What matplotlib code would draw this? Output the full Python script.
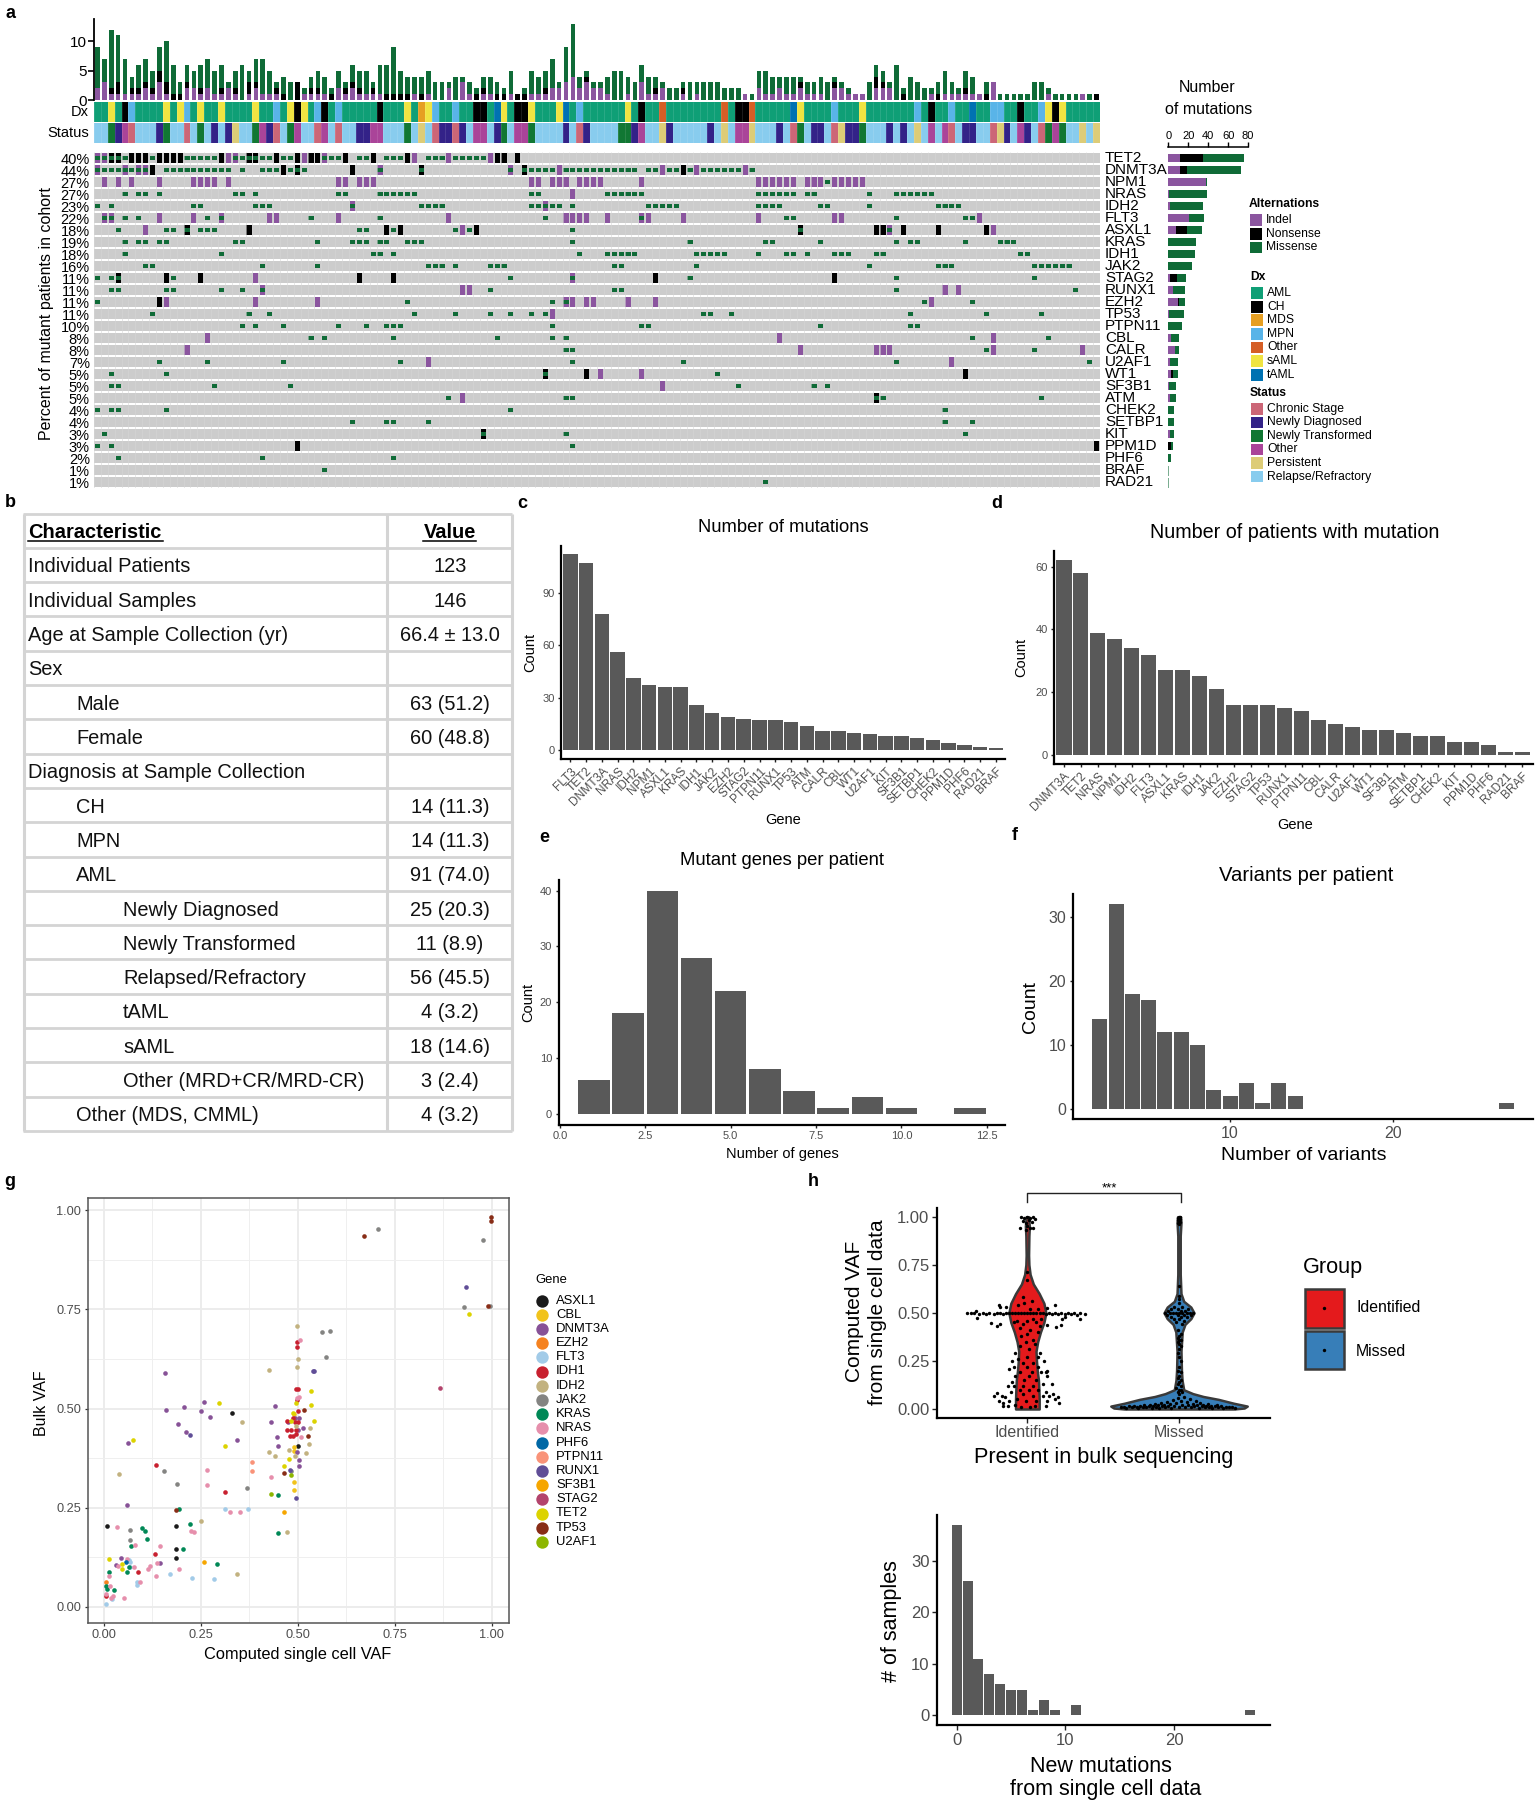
import matplotlib
matplotlib.use('Agg')
import matplotlib.pyplot as plt
from matplotlib.patches import Rectangle
import numpy as np

plt.rcParams['font.family'] = ['Liberation Sans', 'DejaVu Sans']
W, H = 1538, 1800
fig = plt.figure(figsize=(W/100, H/100), dpi=100, facecolor='white')

def axpx(x0, y0, x1, y1, **kw):
    return fig.add_axes([x0/W, 1-y1/H, (x1-x0)/W, (y1-y0)/H], **kw)

def T(x, y, s, **kw):
    kw.setdefault('va', 'center')
    kw.setdefault('ha', 'left')
    return fig.text(x/W, 1-y/H, s, **kw)

GRAYTXT = '#4D4D4D'
BARG = '#595959'
C_I, C_N, C_M = '#8B559F', '#000000', '#0F6B37'
DX_COL = {'AML': '#0F9F76', 'CH': '#000000', 'MDS': '#E69F22', 'MPN': '#59B4E8',
          'Other': '#D55E26', 'sAML': '#F0E442', 'tAML': '#0072B2'}
ST_COL = {'Chronic Stage': '#CC6677', 'Newly Diagnosed': '#332288', 'Newly Transformed': '#117733',
          'Other': '#AA4499', 'Persistent': '#DDCC77', 'Relapse/Refractory': '#88CCEE'}

# ---------- panel a data ----------
BAR_I = [2,3,1,1,1,1,1,2,1,3, 1,0,0,2,2,1,2,1,1,2, 1,0,1,2,1,1,1,0,0,0, 1,1,1,1,0,2,1,2,1,1,
         1,1,0,0,0,0,1,0,1,0, 0,2,0,3,1,0,1,1,0,0, 1,0,0,1,1,1,2,2,3,4, 2,3,2,2,1,0,0,1,0,3,
         1,1,2,0,0,1,0,1,0,0, 0,0,0,0,1,0,2,1,1,2, 1,1,2,1,1,1,0,2,2,1, 1,1,0,2,2,2,0,0,0,0,
         0,1,0,1,1,1,1,1,1,0, 3,0,0,0,0,0,0,0,1,0, 0,0,0,1,0,0]
BAR_N = [0,0,1,2,0,1,1,1,1,2, 2,1,1,1,0,1,0,0,1,0, 1,0,2,1,0,0,1,1,0,3, 0,1,1,0,1,0,1,1,1,0,
         1,0,1,1,1,1,0,1,0,0, 0,0,0,0,0,1,1,0,1,1, 0,1,1,0,0,1,0,0,0,0, 0,1,0,0,0,0,0,0,0,0,
         0,1,0,0,0,1,0,0,0,0, 0,0,0,0,0,0,0,0,0,0, 0,0,1,0,0,0,0,1,0,0, 0,0,0,2,1,0,0,1,0,0,
         0,0,1,0,0,0,1,0,0,1, 0,0,0,0,0,0,0,0,0,0, 0,0,0,0,0,1]
BAR_M = [7,4,10,8,6,2,4,4,3,4, 7,5,2,3,3,4,5,4,4,1, 3,6,2,4,6,4,1,3,3,0, 1,2,3,3,1,3,1,3,3,4,
         1,5,5,8,4,3,3,3,4,3, 3,1,4,1,2,1,2,3,2,1, 4,0,1,4,3,3,5,1,6,9, 2,1,1,1,3,5,5,3,3,3,
         3,2,1,2,2,1,3,2,3,3, 3,2,2,2,0,1,3,4,3,2, 3,3,1,2,2,3,3,1,1,1, 0,0,3,2,2,1,6,1,4,3,
         2,1,2,4,2,1,3,3,0,2, 0,1,1,1,1,1,3,3,1,1, 1,1,1,0,1,0]
DX_RUNS = [('AML',2),('sAML',1),('AML',1),('CH',1),('MPN',1),('AML',4),('sAML',1),('AML',1),('sAML',1),('MPN',1),
 ('AML',1),('sAML',1),('AML',2),('sAML',1),('AML',4),('sAML',1),('AML',2),('MPN',1),('AML',1),('sAML',1),('CH',1),
 ('sAML',1),('AML',1),('MPN',1),('CH',1),('AML',1),('MPN',1),('AML',5),('CH',1),('AML',3),('sAML',1),('AML',1),
 ('MDS',1),('sAML',1),('MPN',1),('AML',2),('MPN',1),('AML',2),('CH',2),('AML',1),('tAML',1),('sAML',1),('AML',1),
 ('CH',2),('sAML',1),('AML',3),('sAML',1),('tAML',1),('AML',1),('MPN',1),('AML',6),('sAML',1),('AML',1),('CH',1),
 ('AML',2),('Other',1),('AML',8),('Other',1),('AML',1),('CH',2),('Other',1),('AML',5),('tAML',1),('sAML',1),('AML',4),
 ('MPN',1),('AML',3),('sAML',1),('AML',7),('MPN',1),('AML',1),('CH',1),('AML',2),('MPN',1),('AML',2),('tAML',1),
 ('AML',2),('MPN',2),('AML',2),('CH',1),('AML',2),('MPN',1),('sAML',1),('CH',1),('sAML',1),('AML',5)]
R, NT, ND, O, CS, P = 'Relapse/Refractory','Newly Transformed','Newly Diagnosed','Other','Chronic Stage','Persistent'
ST_RUNS = [(R,2),(NT,1),(ND,1),(O,1),(CS,1),(R,3),(ND,1),(NT,1),(R,2),(CS,1),(R,1),(NT,1),(R,1),(ND,1),(R,1),(ND,1),(P,1),
 (R,2),(NT,1),(O,1),(ND,1),(CS,1),(R,1),(NT,1),(O,1),(R,2),(CS,1),(O,1),(R,1),(CS,1),(R,2),(ND,2),(O,2),(R,3),(NT,1),(R,1),
 (P,1),(R,1),(CS,1),(ND,2),(CS,1),(ND,1),(R,1),(O,2),(R,1),(ND,1),(NT,1),(R,1),(O,2),(NT,1),(R,4),(ND,1),(R,1),(CS,1),(ND,1),
 (R,4),(NT,2),(ND,1),(O,1),(R,2),(P,1),(ND,1),(R,5),(ND,1),(R,1),(P,1),(R,1),(O,2),(P,1),(R,3),(ND,1),(R,1),(CS,1),(NT,1),
 (R,1),(ND,2),(R,1),(CS,1),(P,1),(ND,2),(NT,1),(R,3),(ND,1),(R,1),(ND,1),(R,1),(P,1),(R,1),(O,1),(R,1),(O,1),(CS,1),(R,1),
 (ND,2),(R,2),(CS,1),(P,1),(ND,1),(R,1),(O,1),(ND,1),(R,1),(CS,1),(NT,1),(O,1),(NT,1),(R,2),(P,1),(R,1),(P,1)]
GENES_A = ['TET2','DNMT3A','NPM1','NRAS','IDH2','FLT3','ASXL1','KRAS','IDH1','JAK2','STAG2','RUNX1','EZH2','TP53','PTPN11',
           'CBL','CALR','U2AF1','WT1','SF3B1','ATM','CHEK2','SETBP1','KIT','PPM1D','PHF6','BRAF','RAD21']
PCT_A = ['40%','44%','27%','27%','23%','22%','18%','19%','18%','16%','11%','11%','11%','11%','10%','8%','8%','7%','5%','5%',
         '5%','4%','4%','3%','3%','2%','1%','1%']
INDEL = {'TET2':[0,1,19,20,30,33,46,51,57],'DNMT3A':[0,4,6,7,41,60,67,82,87,94],
 'NPM1':[1,3,5,9,14,15,16,17,19,35,36,38,39,40,63,64,66,67,68,70,71,72,73,79,96,97,98,99,100,101,103,104,105,107,108,109,110,111],
 'NRAS':[69],'IDH2':[37,65],'FLT3':[1,2,9,14,18,25,26,35,51,68,69,70,71,74,79,80,85,96,107,108,128],'ASXL1':[7,53,115,130],
 'STAG2':[23,69],'RUNX1':[24,53,54,123,125],'EZH2':[10,23,32,68,69,71,72,77,81,121],'TP53':[66],'CBL':[16,99,130],
 'CALR':[13,102,113,114,115,130,143],'U2AF1':[48,124],'WT1':[73,79],'SF3B1':[82],'ATM':[53]}
NONSENSE = {'TET2':[2,3,5,6,7,9,10,11,12,18,22,23,26,29,31,32,36,40,45,58,59,61],'DNMT3A':[8,27,29,37,47,62,85],
 'ASXL1':[13,22,42,44,55,102,113,114,117,122,129],'STAG2':[3,10,15,38,43,81,107],'EZH2':[9],'WT1':[65,71,126],'ATM':[113],
 'KIT':[56],'PPM1D':[29,145]}
MISSENSE = {'TET2':[0,1,2,3,4,8,13,14,15,16,17,20,21,22,23,24,25,27,28,33,34,35,38,39,42,43,44,48,49,50,52,53,54,55,56],
 'DNMT3A':[0,1,2,3,4,5,6,7,10,11,12,13,14,15,16,17,18,19,21,24,25,26,28,29,30,41,47,60,62,63,64,65,66,68,69,70,71,72,73,74,75,76,77,78,80,81,83,84,86,88,89,90,91,92,93,95],
 'NPM1':[106],'NRAS':[4,6,7,9,20,21,23,35,36,41,42,43,44,45,46,63,64,74,75,76,77,78,79,96,97,98,99,100,101,103,104,112,116,117,118,119,120,121],
 'IDH2':[0,2,14,15,23,24,25,37,47,48,49,50,63,64,65,66,67,69,80,81,82,83,84,96,97,98,99,105,106,112,122,123,124,125],
 'FLT3':[1,2,4,6,16,18,31,41,65,79,100,101,116,126,127],'ASXL1':[3,10,11,13,15,16,17,38,39,43,52,54,69,102,115],
 'KRAS':[4,6,7,9,10,20,21,32,37,38,39,41,42,45,46,47,69,86,97,98,105,116,118,119,126,131,132,133],
 'IDH1':[4,18,40,41,43,70,74,75,76,77,78,87,88,89,90,91,96,100,101,103,107,108,109,113,114,134,135],
 'JAK2':[7,8,24,32,48,49,50,52,57,58,59,75,76,87,112,122,123,124,136,137,138,139,140,141],
 'STAG2':[0,2,3,11,60,69,86,116,136],'RUNX1':[2,3,10,11,18,21,24,57,75,76,116,142],'EZH2':[0,45,66,68,120,127],
 'TP53':[8,22,25,46,52,57,60,63,65,88,89,92,118,129,137],'PTPN11':[21,23,27,35,39,42,43,44,66,79,80,105,118,119],
 'CBL':[31,33,43,58,66,68,127,138],'CALR':[68,69,129,136],'U2AF1':[9,16,27,44,69,85,116,144],'WT1':[2,10,65,90],
 'SF3B1':[2,3,17,28,93,104,106],'ATM':[51,68,69,113,114,137],'CHEK2':[0,2,3,10,60,123],'SETBP1':[37,42,43,48,123,127],
 'KIT':[1,56,68,126],'PPM1D':[0,2,69],'PHF6':[3,24,43],'BRAF':[33],'RAD21':[97]}
SIDE_I = [12,12,38,1,2,21,8,0,0,0,2,5,10,1,0,3,7,2,3,1,2,0,0,2,0,0,0,0]
SIDE_N = [23,7,0,0,0,0,11,0,0,0,7,0,1,0,0,0,0,0,2,0,0,0,0,0,3,0,0,0]
SIDE_M = [41,54,1,38,33,15,15,28,27,24,9,12,6,15,14,8,4,8,5,7,6,6,6,4,2,3,1,1]

# ---------- panel a drawing ----------
n = len(BAR_I)
cols = np.arange(n)
ax = axpx(94, 19, 1100, 100)
ax.bar(cols, BAR_I, width=.68, color=C_I, linewidth=0)
ax.bar(cols, BAR_N, width=.68, bottom=BAR_I, color=C_N, linewidth=0)
ax.bar(cols, BAR_M, width=.68, bottom=np.add(BAR_I, BAR_N), color=C_M, linewidth=0)
ax.set_xlim(-.5, n-.5); ax.set_ylim(0, 81/5.87)
ax.set_yticks([0, 5, 10]); ax.set_xticks([])
for s in ['top', 'right', 'bottom']:
    ax.spines[s].set_visible(False)
ax.spines['left'].set_linewidth(1.3)
ax.tick_params(axis='y', labelsize=11, length=4, width=1.2, pad=1)

def runs_bar(y0, y1, runs, cmap):
    a = axpx(94, y0, 1100, y1)
    pos = 0
    for name, k in runs:
        a.bar(np.arange(pos, pos+k), 1, width=1, color=cmap[name], linewidth=0)
        pos += k
    a.vlines(np.arange(n+1)-.5, 0, 1, color='white', lw=.4, alpha=.2)
    a.set_xlim(-.5, n-.5); a.set_ylim(0, 1); a.axis('off')

runs_bar(101.7, 122, DX_RUNS, DX_COL)
runs_bar(123, 143, ST_RUNS, ST_COL)
T(89, 112, 'Dx', ha='right', fontsize=10.5)
T(89, 133, 'Status', ha='right', fontsize=10.5)

ax = axpx(94, 152, 1100, 488)
rows = np.arange(len(GENES_A))
ax.barh(rows, n, left=-.5, height=.9, color='#CCCCCC', linewidth=0)
ax.vlines(np.arange(n+1)-.5, -.5, 27.5, color='#D6D6D6', lw=.4)
for r, g in enumerate(GENES_A):
    if g in INDEL:
        ax.bar(INDEL[g], .85, width=.74, bottom=r-.425, color=C_I, linewidth=0)
    if g in NONSENSE:
        ax.bar(NONSENSE[g], .85, width=.74, bottom=r-.425, color=C_N, linewidth=0)
    if g in MISSENSE:
        ax.bar(MISSENSE[g], .34, width=.74, bottom=r-.17, color=C_M, linewidth=0)
    T(1105, 152+12*(r+.5), g, fontsize=11)
ax.set_xlim(-.5, n-.5); ax.set_ylim(27.5, -.5)
ax.set_xticks([]); ax.set_yticks(rows); ax.set_yticklabels(PCT_A, fontsize=10.5)
ax.tick_params(axis='y', length=0, pad=3)
for s in ax.spines.values():
    s.set_visible(False)
T(47, 314, 'Percent of mutant patients in cohort', rotation=90, ha='center', fontsize=11.5)

ax = axpx(1168.3, 152, 1248, 488)
ax.barh(rows, SIDE_I, height=.62, color=C_I, linewidth=0)
ax.barh(rows, SIDE_N, left=SIDE_I, height=.62, color=C_N, linewidth=0)
bars = ax.barh(rows, SIDE_M, left=np.add(SIDE_I, SIDE_N), height=.62, color=C_M, linewidth=0)
for b in bars[-2:]:
    b.set_alpha(.55); b.set_height(.8)
ax.set_xlim(0, 80); ax.set_ylim(27.5, -.5)
ax.set_yticks([])
ax.xaxis.tick_top(); ax.set_xticks([0, 20, 40, 60, 80])
ax.tick_params(axis='x', labelsize=8, length=3.5, width=1, pad=1)
for s in ['left', 'right', 'bottom']:
    ax.spines[s].set_visible(False)
ax.spines['top'].set_position(('outward', 3.6)); ax.spines['top'].set_linewidth(1.1)
T(1207, 88, 'Number', ha='center', fontsize=11.5)
T(1209, 110, 'of mutations', ha='center', fontsize=11.5)

leg = fig.add_axes([0, 0, 1, 1]); leg.set_xlim(0, W); leg.set_ylim(H, 0); leg.axis('off'); leg.patch.set_alpha(0)
def legend_block(title, ytitle, names, ys, colors, x0):
    T(x0-1, ytitle, title, fontsize=8.7, fontweight='bold')
    for nm, y, c in zip(names, ys, colors):
        leg.add_patch(Rectangle((x0, y-5.8), 11.5, 11.6, color=c, linewidth=0))
        T(x0+16, y, nm, fontsize=8.7)
legend_block('Alternations', 204, ['Indel', 'Nonsense', 'Missense'], [220, 234, 247.5], [C_I, C_N, C_M], 1250)
legend_block('Dx', 277, list(DX_COL), [293, 307, 320, 334, 347.5, 361, 375], list(DX_COL.values()), 1251)
legend_block('Status', 392.5, list(ST_COL), [409, 422.5, 436, 449.5, 463, 476.5], list(ST_COL.values()), 1251)

# ---------- panel b ----------
TABLE_ROWS = [('Characteristic', 'Value', 0), ('Individual Patients', '123', 0), ('Individual Samples', '146', 0),
 ('Age at Sample Collection (yr)', '66.4 ± 13.0', 0), ('Sex', '', 0), ('Male', '63 (51.2)', 1), ('Female', '60 (48.8)', 1),
 ('Diagnosis at Sample Collection', '', 0), ('CH', '14 (11.3)', 1), ('MPN', '14 (11.3)', 1), ('AML', '91 (74.0)', 1),
 ('Newly Diagnosed', '25 (20.3)', 2), ('Newly Transformed', '11 (8.9)', 2), ('Relapsed/Refractory', '56 (45.5)', 2),
 ('tAML', '4 (3.2)', 2), ('sAML', '18 (14.6)', 2), ('Other (MRD+CR/MRD-CR)', '3 (2.4)', 2), ('Other (MDS, CMML)', '4 (3.2)', 1)]
INDENT_PX = [28, 76, 123]
top, bot = 513.5, 1131
pitch = (bot-top)/len(TABLE_ROWS)
tb = '#D4D4D4'
for i in range(len(TABLE_ROWS)+1):
    leg.plot([23, 512], [top+i*pitch]*2, color=tb, lw=2, solid_capstyle='butt')
for xv in [23.5, 387, 511.5]:
    leg.plot([xv, xv], [top, bot], color=tb, lw=2.2, solid_capstyle='butt')
for i, (lab, val, lev) in enumerate(TABLE_ROWS):
    y = top + (i+.5)*pitch + 2
    if i == 0:
        T(28, y, lab, fontsize=14.4, fontweight='bold')
        T(450, y, val, fontsize=14.4, fontweight='bold', ha='center')
        leg.plot([28, 163], [y+8.5]*2, color='k', lw=1.1)
        leg.plot([423, 476], [y+8.5]*2, color='k', lw=1.1)
    else:
        T(INDENT_PX[lev], y, lab, fontsize=14.4, color='#111111')
        T(450, y, val, fontsize=14.4, ha='center', color='#111111')

# ---------- panels c, d, e, f, h hist ----------
GENES_C = ['FLT3','TET2','DNMT3A','NRAS','IDH2','NPM1','ASXL1','KRAS','IDH1','JAK2','EZH2','STAG2','PTPN11','RUNX1','TP53',
           'ATM','CALR','CBL','WT1','U2AF1','KIT','SF3B1','SETBP1','CHEK2','PPM1D','PHF6','RAD21','BRAF']
COUNT_C = [112,107,78,56,41,37,36,36,26,21,19,18,17,17,16,14,11,11,10,9,8,8,7,6,4,3,2,1]
GENES_D = ['DNMT3A','TET2','NRAS','NPM1','IDH2','FLT3','ASXL1','KRAS','IDH1','JAK2','EZH2','STAG2','TP53','RUNX1','PTPN11',
           'CBL','CALR','U2AF1','WT1','SF3B1','ATM','SETBP1','CHEK2','KIT','PPM1D','PHF6','RAD21','BRAF']
COUNT_D = [62,58,39,37,34,32,27,27,25,21,16,16,16,15,14,11,10,9,8,8,7,6,6,4,4,3,1,1]
BINS_E = [1,2,3,4,5,6,7,8,9,10,12]
COUNT_E = [6,18,40,28,22,8,4,1,3,1,1]
BINS_F = [2,3,4,5,6,7,8,9,10,11,12,13,14,27]
COUNT_F = [14,32,18,17,12,12,10,3,2,4,1,4,2,1]
BINS_H = [0,1,2,3,4,5,6,7,8,9,11,27]
COUNT_H = [37,26,11,8,6,5,5,1,3,1,2,1]

def classic(a, lw=1.6, ls=8, tl=2.5):
    a.spines['top'].set_visible(False); a.spines['right'].set_visible(False)
    a.spines['left'].set_linewidth(lw); a.spines['bottom'].set_linewidth(lw)
    a.tick_params(labelsize=ls, labelcolor=GRAYTXT, length=tl, width=1, color='#222222', pad=2)

def gene_panel(box, genes, vals, xlim, ylim, yticks):
    a = axpx(*box)
    a.bar(np.arange(1, len(vals)+1), vals, width=.92, color=BARG, linewidth=0)
    a.set_xlim(*xlim); a.set_ylim(*ylim); a.set_yticks(yticks)
    a.set_xticks(np.arange(1, len(vals)+1))
    a.set_xticklabels(genes, rotation=45, ha='right', rotation_mode='anchor')
    classic(a)
    a.tick_params(axis='x', labelsize=8.6)
    return a

gene_panel((561, 546, 1005, 759), GENES_C, COUNT_C, (.41, 28.57), (-5.15, 116.7), [0, 30, 60, 90])
T(783, 527, 'Number of mutations', ha='center', fontsize=13.2)
T(783, 820, 'Gene', ha='center', fontsize=10.5)
T(530, 652, 'Count', ha='center', rotation=90, fontsize=10.5)
gene_panel((1054, 551, 1533, 764), GENES_D, COUNT_D, (.43, 28.62), (-2.9, 65), [0, 20, 40, 60])
T(1295, 532, 'Number of patients with mutation', ha='center', fontsize=14.2)
T(1295, 825, 'Gene', ha='center', fontsize=10.5)
T(1021, 657, 'Count', ha='center', rotation=90, fontsize=10.5)

a = axpx(558.5, 880, 1005, 1124.7)
a.bar(BINS_E, COUNT_E, width=.92, color=BARG, linewidth=0)
a.set_xlim(-.04, 13.03); a.set_ylim(-1.97, 41.9)
a.set_xticks([0, 2.5, 5, 7.5, 10, 12.5]); a.set_xticklabels(['0.0', '2.5', '5.0', '7.5', '10.0', '12.5'])
a.set_yticks([0, 10, 20, 30, 40]); classic(a)
T(782, 861, 'Mutant genes per patient', ha='center', fontsize=13.3)
T(782, 1154, 'Number of genes', ha='center', fontsize=10.5)
T(528, 1002, 'Count', ha='center', rotation=90, fontsize=10.5)

a = axpx(1072.6, 894, 1533, 1119.3)
a.bar(BINS_F, COUNT_F, width=.92, color=BARG, linewidth=0)
a.set_xlim(.32, 28.63); a.set_ylim(-1.6, 33.6)
a.set_xticks([10, 20]); a.set_yticks([0, 10, 20, 30]); classic(a, ls=11.5)
T(1306, 875, 'Variants per patient', ha='center', fontsize=14.6)
T(1303.5, 1156, 'Number of variants', ha='center', fontsize=14)
T(1030, 1007, 'Count', ha='center', rotation=90, fontsize=14)

a = axpx(937, 1515, 1270, 1725)
a.bar(BINS_H, COUNT_H, width=.92, color=BARG, linewidth=0)
a.set_xlim(-1.81, 28.8); a.set_ylim(-1.88, 38.9)
a.set_xticks([0, 10, 20]); a.set_yticks([0, 10, 20, 30]); classic(a, ls=12, tl=3.5)
T(892, 1621, '# of samples', ha='center', rotation=90, fontsize=15.5)
T(1101, 1766, 'New mutations', ha='center', fontsize=15.5)
T(1106, 1789, 'from single cell data', ha='center', fontsize=15.5)

# ---------- panel g ----------
GENE_COL = {'ASXL1':'#1A1A1A','CBL':'#F1C31C','DNMT3A':'#875297','EZH2':'#F58220','FLT3':'#A2CBE8','IDH1':'#C8202F',
 'IDH2':'#C2B280','JAK2':'#848482','KRAS':'#008856','NRAS':'#E68FAC','PHF6':'#0067A5','PTPN11':'#F99379','RUNX1':'#604E97',
 'SF3B1':'#F6A600','STAG2':'#B3446C','TET2':'#DCD300','TP53':'#882D17','U2AF1':'#8DB600'}
VAF = {
'ASXL1':[(.008,.203),(.331,.489),(.186,.203),(.186,.145),(.186,.124),(.500,.407)],
'CBL':[(.490,.404),(.490,.486),(.490,.316),(.489,.295),(.490,.392)],
'DNMT3A':[(.158,.589),(.159,.496),(.206,.505),(.257,.518),(.249,.493),(.273,.479),(.190,.462),(.212,.442),(.061,.413),(.060,.257),
 (.344,.421),(.442,.507),(.432,.466),(.446,.429),(.450,.405),(.476,.466),(.504,.476),(.513,.450),(.497,.390),(.503,.356),
 (.503,.370),(.493,.476),(.043,.123),(.031,.106),(.144,.112),(.501,.446)],
'EZH2':[(.005,.064)],
'FLT3':[(.311,.246),(.372,.246),(.086,.064),(.086,.055),(.226,.074),(.283,.070),(.169,.082),(.066,.114),(.066,.102),(.005,.007),
 (.020,.020),(.064,.118)],
'IDH1':[(.499,.668),(.499,.655),(.495,.550),(.500,.550),(.497,.522),(.500,.495),(.488,.477),(.473,.468),(.473,.445),(.482,.445),
 (.495,.446),(.479,.432),(.488,.432),(.495,.436),(.500,.467),(.493,.467),(.134,.357),(.312,.290),(.131,.134),(.087,.087),(.005,.028)],
'IDH2':[(.499,.708),(.501,.626),(.497,.605),(.426,.597),(.038,.336),(.355,.466),(.532,.450),(.529,.411),(.521,.389),(.426,.391),
 (.441,.381),(.478,.395),(.493,.381),(.250,.217),(.343,.082),(.473,.188),(.495,.456)],
'JAK2':[(.708,.953),(.979,.925),(.930,.757),(.995,.759),(.562,.693),(.584,.695),(.572,.630),(.156,.342),(.188,.311),(.369,.299),
 (.068,.195),(.068,.169),(.482,.343)],
'KRAS':[(.194,.248),(.098,.199),(.107,.192),(.112,.172),(.070,.155),(.222,.208),(.204,.145),(.292,.109),(.449,.187),(.448,.283),
 (.012,.089),(.059,.087),(.065,.100),(.006,.054),(.007,.045),(.026,.043)],
'NRAS':[(.505,.673),(.502,.529),(.498,.527),(.508,.429),(.431,.327),(.265,.345),(.265,.307),(.033,.202),(.224,.192),(.233,.190),
 (.325,.240),(.352,.239),(.081,.156),(.145,.153),(.060,.120),(.137,.110),(.119,.103),(.114,.096),(.077,.102),(.194,.096),
 (.134,.077),(.013,.078),(.037,.103),(.016,.054),(.093,.064),(.052,.022),(.022,.028),(.017,.022),(.006,.032)],
'PHF6':[(.056,.114)],
'PTPN11':[(.383,.366),(.383,.342)],
'RUNX1':[(.934,.806),(.539,.595),(.543,.595),(.495,.276),(.222,.433),(.479,.345)],
'SF3B1':[(.259,.113),(.465,.239)],
'STAG2':[(.866,.553)],
'TET2':[(.534,.544),(.534,.510),(.495,.514),(.542,.468),(.312,.407),(.297,.515),(.075,.422),(.943,.739),(.477,.372),(.464,.355),
 (.488,.488),(.482,.468),(.014,.121),(.046,.108),(.047,.096)],
'TP53':[(.672,.936),(.998,.982),(.998,.973),(.992,.759),(.515,.497),(.527,.431),(.465,.339),(.185,.244)],
'U2AF1':[(.430,.285),(.483,.332)],
}
a = axpx(87.5, 1198, 509, 1622.7)
a.set_axisbelow(True)
a.set_xlim(-.0426, 1.045); a.set_ylim(-.0396, 1.031)
a.set_xticks([0, .25, .5, .75, 1]); a.set_yticks([0, .25, .5, .75, 1])
a.set_xticklabels(['0.00', '0.25', '0.50', '0.75', '1.00']); a.set_yticklabels(['0.00', '0.25', '0.50', '0.75', '1.00'])
a.set_xticks([.125, .375, .625, .875], minor=True); a.set_yticks([.125, .375, .625, .875], minor=True)
a.grid(True, which='major', color='#EBEBEB', lw=1.3); a.grid(True, which='minor', color='#EFEFEF', lw=.7)
a.tick_params(which='minor', length=0)
a.tick_params(which='major', labelsize=9.2, labelcolor=GRAYTXT, length=2.5, width=.9, color='#333333', pad=2)
for s in a.spines.values():
    s.set_color('#555555'); s.set_linewidth(1.1)
for g, pts in VAF.items():
    arr = np.array(pts)
    a.scatter(arr[:, 0], arr[:, 1], s=11, color=GENE_COL[g], linewidth=0, zorder=3)
T(298, 1655, 'Computed single cell VAF', ha='center', fontsize=11.8)
T(42, 1403, 'Bulk VAF', ha='center', rotation=90, fontsize=11.5)
T(535, 1280, 'Gene', fontsize=9.4)
for i, g in enumerate(GENE_COL):
    y = 1300.5 + 14.2*i
    leg.scatter([542], [y], s=80, color=GENE_COL[g], linewidth=0)
    T(556, y, g, fontsize=9.4)

# ---------- panel h violin ----------
VIO_Y1 = [0,.05,.1,.15,.2,.25,.3,.35,.4,.45,.5,.55,.6,.65,.7,.75,.8,.9,.95,1.0]
VIO_W1 = [.078,.078,.076,.073,.065,.06,.057,.068,.086,.109,.122,.109,.078,.039,.018,.010,.008,.010,.013,.008]
VIO_Y2 = [0,.005,.015,.03,.05,.065,.08,.1,.15,.2,.3,.4,.44,.47,.5,.53,.56,.6,.7,.9,.97,1.0]
VIO_W2 = [.36,.43,.45,.36,.26,.16,.091,.031,.02,.016,.013,.021,.039,.078,.099,.078,.031,.013,.008,.008,.013,.010]
PTS_ID = [(-.40,.5),(-.37,.5),(-.35,.5),(-.32,.495),(-.29,.5),(-.27,.495),(-.25,.5),(-.22,.495),(-.2,.5),(-.18,.5),(-.16,.495),
 (-.14,.5),(-.12,.5),(-.1,.5),(-.08,.5),(-.06,.5),(-.04,.5),(-.02,.5),(0,.5),(.02,.5),(.04,.5),(.06,.5),(.08,.5),(.1,.5),(.12,.495),
 (.14,.5),(.16,.495),(.18,.5),(.2,.495),(.22,.5),(.25,.495),(.27,.5),(.29,.495),(.31,.5),(.33,.49),(.35,.5),(.38,.495),
 (-.34,.508),(-.19,.543),(-.18,.529),(-.14,.529),(.18,.543),(.13,.525),(-.24,.447),(-.2,.43),(-.18,.442),(.19,.424),(.13,.435),
 (.23,.468),(.22,.438),(-.33,.473),(.35,.47),(.25,.48),
 (-.03,.58),(.03,.56),(-.06,.54),(.07,.52),(-.02,.55),(.02,.52),(-.07,.46),(0,.46),(.06,.45),(-.05,.42),(.02,.41),(.07,.40),
 (-.04,.38),(.04,.36),(-.01,.35),(.05,.34),(-.05,.33),(.01,.31),(-.03,.44),(.04,.47),(.09,.47),(-.09,.45),(0,.39),(.08,.43),
 (-.08,.29),(.08,.29),(-.06,.26),(0,.27),(.07,.27),(-.1,.25),(-.03,.24),(.04,.24),(.11,.25),(-.09,.22),(0,.22),(.07,.22),(-.12,.21),
 (.13,.2),(-.05,.19),(.03,.19),(.09,.19),(-.08,.17),(.01,.17),(.12,.19),(-.02,.15),(.06,.15),(-.1,.14),(.13,.17),(-.09,.12),(-.03,.12),
 (.04,.12),(.1,.13),(-.13,.12),(.16,.13),(-.05,.1),(.01,.1),(.07,.1),(-.11,.09),(.12,.09),(-.03,.08),(.04,.07),(-.2,.085),(-.17,.07),
 (-.15,.06),(-.22,.07),(.1,.07),(.14,.07),(.17,.08),(.2,.06),(.18,.05),(.21,.03),(-.19,.04),(-.16,.03),(-.12,.04),(-.07,.05),(-.01,.04),
 (.06,.04),(.13,.04),(-.13,.015),(-.08,.02),(-.04,.01),(.02,.01),(.05,.015),(.12,.015),(-.16,.015),
 (-.04,1.0),(-.02,.995),(0,1.0),(.02,.995),(.04,1.0),(.05,.99),(-.03,.98),(.01,.985),(-.01,.965),(.03,.975),(-.05,.94),(.02,.94),
 (.04,.94),(0,.95),(-.01,.93),(0,.71),(0,.67)]
PTS_MS = [(-.09,.5),(-.08,.49),(-.07,.51),(-.06,.5),(-.05,.48),(-.05,.52),(-.04,.5),(-.03,.47),(-.03,.53),(-.02,.5),(-.01,.49),
 (-.01,.52),(0,.5),(0,.47),(0,.55),(.01,.51),(.01,.48),(.02,.5),(.02,.53),(.03,.49),(.03,.46),(.04,.51),(.05,.5),(.05,.48),(.06,.52),
 (.07,.5),(.08,.49),(.09,.5),(-.02,.45),(.02,.44),
 (0,.64),(0,.59),(0,.57),(-.01,.41),(.01,.39),(0,.38),(-.01,.37),(0,.36),(.01,.36),(-.01,.35),(0,.34),(.01,.33),(0,.31),(-.01,.29),
 (0,.27),(.01,.25),(0,.22),(-.01,.2),(.01,.19),(0,.17),(-.01,.16),(.01,.15),(0,.14),(-.01,.13),(.01,.12),(-.02,.11),(0,.1),(.01,.1),
 (.02,.09),(-.01,.09),(0,.08),
 (0,1.0),(.005,.99),(-.005,.985),(0,.98),(.005,.97),(-.005,.965),(0,.96),(.005,1.0),(-.005,.995),
 (-.38,.008),(-.36,.012),(-.35,.005),(-.33,.014),(-.31,.008),(-.3,.018),(-.28,.01),(-.27,.006),(-.26,.016),(-.24,.012),(-.23,.02),
 (-.22,.008),(-.2,.014),(-.19,.022),(-.18,.007),(-.17,.016),(-.16,.028),(-.15,.012),(-.14,.02),(-.13,.006),(-.12,.03),(-.11,.014),
 (-.1,.022),(-.09,.008),(-.08,.035),(-.07,.015),(-.06,.025),(-.05,.006),(-.04,.045),(-.03,.018),(-.02,.03),(-.01,.055),(0,.01),
 (.01,.04),(.02,.02),(.03,.06),(.04,.012),(.05,.035),(.06,.02),(.07,.05),(.08,.008),(.09,.028),(.1,.015),(.11,.04),(.12,.02),
 (.13,.007),(.14,.03),(.15,.016),(.16,.022),(.17,.008),(.18,.016),(.19,.026),(.2,.01),(.21,.018),(.22,.007),(.24,.014),(.25,.02),
 (.26,.008),(.28,.015),(.29,.006),(.31,.012),(.33,.008),(.35,.011),(.37,.006)]

a = axpx(937, 1208, 1270, 1417.7)
a.fill_betweenx(VIO_Y1, -np.array(VIO_W1), VIO_W1, facecolor='#E41A1C', edgecolor='#3A3A3A', lw=1.8, zorder=2)
a.fill_betweenx(VIO_Y2, 1-np.array(VIO_W2), 1+np.array(VIO_W2), facecolor='#377EB8', edgecolor='#3A3A3A', lw=1.8, zorder=2)
pid = np.array(PTS_ID); pms = np.array(PTS_MS)
a.scatter(pid[:, 0], pid[:, 1], s=6, color='k', linewidth=0, zorder=3, clip_on=False)
a.scatter(1+pms[:, 0], pms[:, 1], s=6, color='k', linewidth=0, zorder=3, clip_on=False)
a.set_xlim(-.596, 1.6); a.set_ylim(-.0453, 1.0453)
a.set_xticks([0, 1]); a.set_xticklabels(['Identified', 'Missed'])
a.set_yticks([0, .25, .5, .75, 1]); a.set_yticklabels(['0.00', '0.25', '0.50', '0.75', '1.00'])
classic(a, ls=12, tl=3.5)
a.tick_params(axis='x', labelsize=11.5)
a.plot([0, 0, 1.01, 1.01], [1.075, 1.123, 1.123, 1.075], color='#222222', lw=1, clip_on=False)
T(1109, 1188, '***', ha='center', fontsize=9.5)
T(1104, 1458, 'Present in bulk sequencing', ha='center', fontsize=15.6)
T(854, 1311, 'Computed VAF', ha='center', rotation=90, fontsize=15)
T(878, 1312, 'from single cell data', ha='center', rotation=90, fontsize=15)
T(1303, 1267, 'Group', fontsize=15.6)
for (y0, y1, c, lab, ty) in [(1288, 1328.7, '#E41A1C', 'Identified', 1308), (1330, 1370, '#377EB8', 'Missed', 1351)]:
    leg.add_patch(Rectangle((1304.5, y0+1), 39.5, y1-y0-2, facecolor=c, edgecolor='#3A3A3A', lw=1.8))
    leg.scatter([1324], [(y0+y1)/2], s=6, color='k', linewidth=0, zorder=4)
    T(1356, ty, lab, fontsize=11.4)

# ---------- panel letters ----------
for (x, y, s) in [(10, 13, 'a'), (10, 502, 'b'), (522, 503, 'c'), (997, 503, 'd'), (544, 837, 'e'), (1015, 836, 'f'),
                  (10, 1181, 'g'), (813, 1181, 'h')]:
    T(x, y, s, fontsize=13, fontweight='bold', ha='center')

fig.savefig('out.png', dpi=100, facecolor='white')
